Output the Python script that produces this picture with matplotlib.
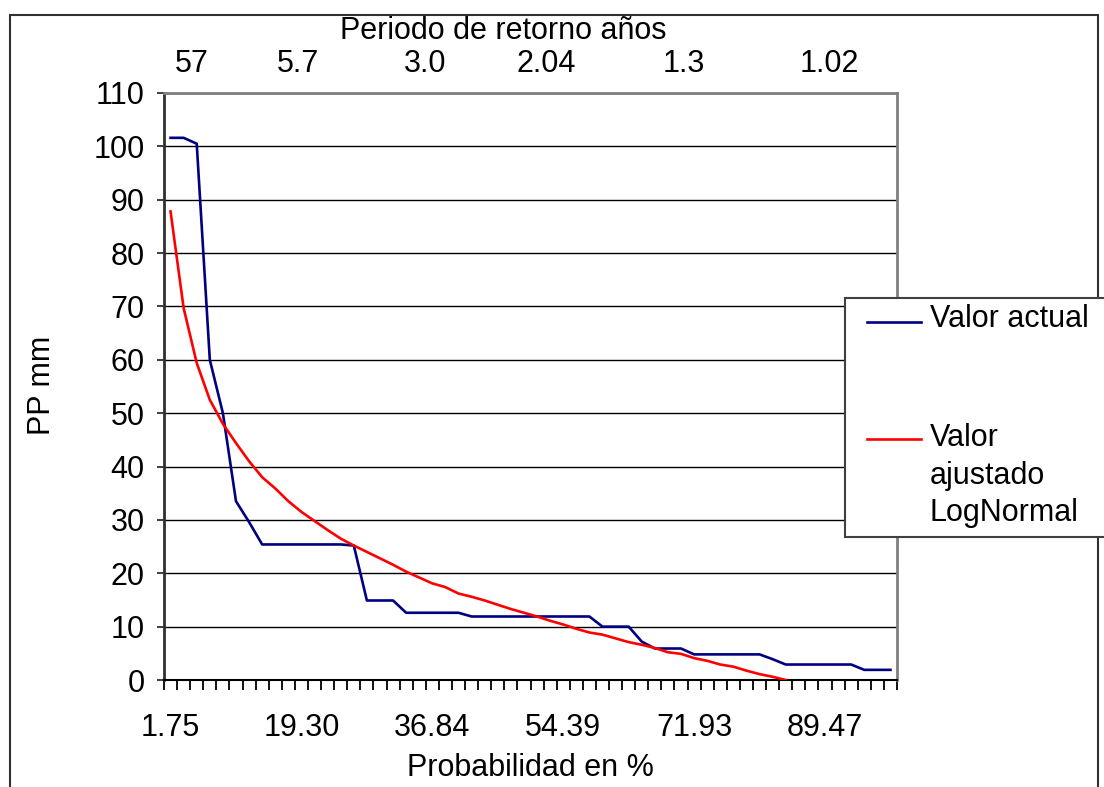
import numpy as np
import matplotlib
matplotlib.use("Agg")
import matplotlib.pyplot as plt
from matplotlib.patches import Rectangle
from matplotlib.lines import Line2D

plt.rcParams['font.family'] = ['Liberation Sans', 'DejaVu Sans']

# ---------------- data ----------------
n_cat = 56
prob_label_pos = [1, 11, 21, 31, 41, 51]
prob_labels = ["1.75", "19.30", "36.84", "54.39", "71.93", "89.47"]
return_labels = ["57", "5.7", "3.0", "2.04", "1.3", "1.02"]

valor_actual = [101.6, 101.6, 100.5, 60.0, 50.0, 33.5, 29.6, 25.4, 25.4, 25.4,
                25.4, 25.4, 25.4, 25.4, 25.2, 14.9, 14.9, 14.9, 12.6, 12.6,
                12.6, 12.6, 12.6, 11.9, 11.9, 11.9, 11.9, 11.9, 11.9, 11.9,
                11.9, 11.9, 11.9, 10.0, 10.0, 10.0, 7.2, 5.9, 5.9, 5.9,
                4.8, 4.8, 4.8, 4.8, 4.8, 4.8, 3.9, 2.9, 2.9, 2.9,
                2.9, 2.9, 2.9, 1.9, 1.9, 1.9]

valor_ajustado = [87.8, 69.7, 59.4, 52.5, 48.0, 44.4, 41.0, 38.0, 35.9, 33.5,
                  31.5, 29.8, 28.1, 26.5, 25.2, 24.0, 22.8, 21.6, 20.3, 19.2,
                  18.1, 17.4, 16.2, 15.6, 14.9, 14.1, 13.3, 12.6, 11.9, 11.1,
                  10.4, 9.6, 8.9, 8.5, 7.8, 7.1, 6.6, 6.0, 5.2, 4.9,
                  4.1, 3.6, 2.9, 2.5, 1.75, 1.1, 0.6, 0.0] + [np.nan] * 8

# ---------------- layout ----------------
W, H = 1104, 787
FS = 22
blue = '#000080'
red = '#FF0000'

def fx(px):
    return px / W

def fy(py):
    return 1 - py / H

fig = plt.figure(figsize=(W / 100, H / 100), dpi=100)
fig.patch.set_facecolor('white')

# outer chart frame
fig.patches.append(Rectangle((fx(10), fy(830)), fx(1098) - fx(10), fy(15) - fy(830),
                             transform=fig.transFigure, fill=False,
                             edgecolor='#303030', lw=1.5, zorder=0))

ax = fig.add_axes([fx(164), fy(680), fx(897) - fx(164), fy(93) - fy(680)])
ax.set_zorder(1)

x = np.arange(1, n_cat + 1)
ax.plot(x, valor_actual, color=blue, lw=1.9, solid_joinstyle='round', zorder=3)
ax.plot(x, valor_ajustado, color=red, lw=1.9, solid_joinstyle='round', zorder=3)

ax.set_xlim(0.5, n_cat + 0.5)
ax.set_ylim(0, 110)
ax.set_yticks(np.arange(0, 111, 10))
ax.yaxis.grid(True, color='black', lw=1.0)
ax.set_axisbelow(True)

ax.set_xticks(prob_label_pos)
ax.set_xticklabels(prob_labels)
ax.set_xticks(np.arange(0.5, n_cat + 1), minor=True)
ax.tick_params(axis='x', which='major', length=0, pad=24, labelsize=FS)
ax.tick_params(axis='x', which='minor', length=7, width=1.3, color='black', direction='out')
ax.tick_params(axis='y', which='major', length=5, width=1.3, color='#303030',
               direction='out', pad=9, labelsize=FS)

for s in ['top', 'right']:
    ax.spines[s].set_color('#808080')
    ax.spines[s].set_linewidth(2)
ax.spines['left'].set_color('#303030')
ax.spines['left'].set_linewidth(2)
ax.spines['bottom'].set_color('black')
ax.spines['bottom'].set_linewidth(1.5)

# axis titles
fig.text(fx(42), fy(385), "PP mm", rotation=90, ha='center', va='center', fontsize=FS)
fig.text(fx(530), fy(768), "Probabilidad en %", ha='center', va='center', fontsize=FS)

# top return-period labels
fig.text(fx(503), fy(31), "Periodo de retorno años", ha='center', va='center', fontsize=FS)
top_pos = [192, 298, 425, 546, 684, 829]
for px, lab in zip(top_pos, return_labels):
    fig.text(fx(px), fy(64), lab, ha='center', va='center', fontsize=FS)

# legend (drawn as figure artists above the axes)
fig.patches.append(Rectangle((fx(845), fy(537)), fx(1120) - fx(845), fy(298) - fy(537),
                             transform=fig.transFigure, facecolor='white',
                             edgecolor='#404040', lw=1.5, zorder=5))
fig.lines.append(Line2D([fx(867), fx(921)], [fy(322), fy(322)], transform=fig.transFigure,
                        color=blue, lw=1.9, zorder=6))
fig.lines.append(Line2D([fx(867), fx(921)], [fy(439), fy(439)], transform=fig.transFigure,
                        color=red, lw=1.9, zorder=6))
fig.text(fx(930), fy(319), "Valor actual", ha='left', va='center', fontsize=FS, zorder=6)
for py, lab in zip([438, 476, 513], ["Valor", "ajustado", "LogNormal"]):
    fig.text(fx(930), fy(py), lab, ha='left', va='center', fontsize=FS, zorder=6)

fig.savefig("out.png", dpi=100)
